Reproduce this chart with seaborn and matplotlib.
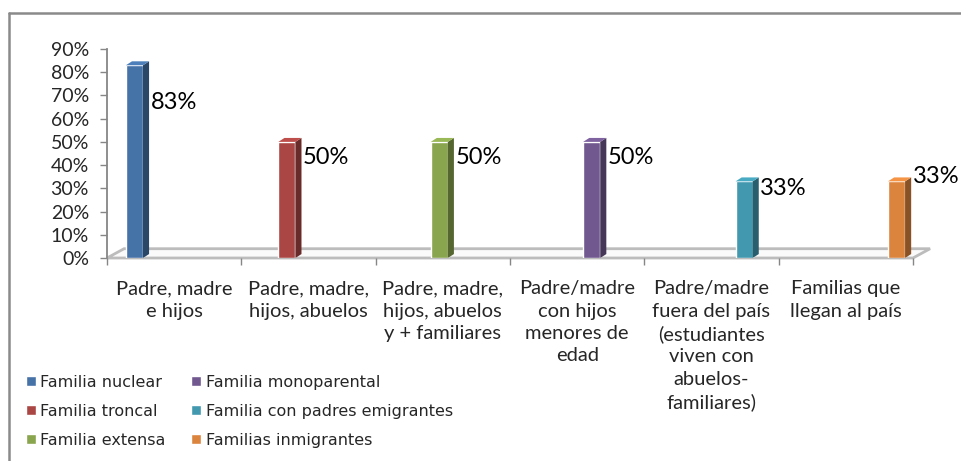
import seaborn as sns
import matplotlib.pyplot as plt
import numpy as np
from matplotlib.patches import Polygon
from matplotlib.lines import Line2D
from matplotlib.ticker import PercentFormatter
from matplotlib.colors import to_rgb

# values
categories = ['Padre, madre\ne hijos',
              'Padre, madre,\nhijos, abuelos',
              'Padre, madre,\nhijos, abuelos\ny + familiares',
              'Padre/madre\ncon hijos\nmenores de\nedad',
              'Padre/madre\nfuera del país\n(estudiantes\nviven con\nabuelos-\nfamiliares)',
              'Familias que\nllegan al país']
family_types = ['Familia nuclear', 'Familia troncal', 'Familia extensa',
                'Familia monoparental', 'Familia con padres emigrantes',
                'Familias inmigrantes']
values = [0.83, 0.50, 0.50, 0.50, 0.33, 0.33]
value_labels = ['83%', '50%', '50%', '50%', '33%', '33%']
label_heights = [0.668, 0.431, 0.431, 0.431, 0.30, 0.353]

colors = ['#4572A7', '#AA4643', '#89A54E', '#71588F', '#4198AF', '#DB843D']

sns.set_style('white')
plt.rcParams['font.family'] = ['Lato', 'DejaVu Sans']

fig = plt.figure(figsize=(9.61, 4.61), dpi=100)
ax = fig.add_axes([107/961, 203/461, 806/961, 209/461])

sns.barplot(x=list(range(len(values))), y=values, hue=family_types,
            palette=colors, dodge=False, width=0.112, saturation=1,
            ax=ax, zorder=3)

ax.set_xlim(-0.180, 5.108)
ax.set_ylim(0, 0.9)

# 3D look: floor plate and bar sides/tops
sx, sy = 0.040, 0.017
fx, fy = 0.112, 0.040
xl, xr = ax.get_xlim()
floor = Polygon([(xl, 0), (xr, 0), (xr + fx, fy), (xl + fx, fy)],
                closed=True, facecolor='#fafafa', edgecolor='#bcbcbc',
                lw=2.0, zorder=1, clip_on=False)
ax.add_patch(floor)

for cont in ax.containers:
    for bar in cont:
        x, w, h = bar.get_x(), bar.get_width(), bar.get_height()
        c = np.array(to_rgb(bar.get_facecolor()))
        side = Polygon([(x + w, 0), (x + w + sx, sy), (x + w + sx, h + sy), (x + w, h)],
                       closed=True, facecolor=c * 0.62, edgecolor='none', zorder=3)
        top = Polygon([(x, h), (x + w, h), (x + w + sx, h + sy), (x + sx, h + sy)],
                      closed=True, facecolor=np.minimum(c * 1.12, 1), edgecolor='none', zorder=3)
        ax.add_patch(side)
        ax.add_patch(top)

bars = [b for cont in ax.containers for b in cont]
bars.sort(key=lambda b: b.get_x())
for b, lab, yh in zip(bars, value_labels, label_heights):
    ax.text(b.get_x() + b.get_width() + sx + 0.01, yh, lab,
            fontsize=17, va='center', ha='left', color='black', zorder=5)

# y axis
ax.yaxis.set_major_formatter(PercentFormatter(1.0, decimals=0))
ax.set_yticks(np.arange(0, 0.91, 0.1))
ax.tick_params(axis='y', left=True, length=5, width=1, color='#868686',
               labelsize=14, pad=8)
ax.set_xticks([])
ax.set_xlabel('')
ax.set_ylabel('')
for s in ['top', 'right', 'bottom']:
    ax.spines[s].set_visible(False)
ax.spines['left'].set_color('#868686')
ax.spines['left'].set_linewidth(1.3)

# category axis
ax2 = ax.twiny()
ax2.set_xlim(-0.5, 5.5)
ax2.xaxis.set_ticks_position('bottom')
ax2.xaxis.set_label_position('bottom')
ax2.set_xticks(range(len(categories)))
ax2.set_xticklabels(categories, fontsize=14.5, linespacing=1.38)
ax2.set_xticks(np.arange(-0.5, 5.6, 1), minor=True)
ax2.tick_params(axis='x', which='major', length=0, pad=16)
ax2.tick_params(axis='x', which='minor', length=5, width=1, color='#868686',
                direction='out')
for s in ax2.spines.values():
    s.set_visible(False)

# legend
sns.move_legend(ax, 'upper left', bbox_to_anchor=(26/961, 1 - 375/461),
                bbox_transform=fig.transFigure, ncol=2, frameon=False,
                title=None, handlelength=0.6, handleheight=0.6,
                handletextpad=0.3, labelspacing=0.87, columnspacing=1.6,
                borderaxespad=0, borderpad=0,
                prop={'family': 'DejaVu Sans', 'size': 11.5})

# outer frame
fig.add_artist(Line2D([9/961, 9/961], [0, 1 - 13/461], color='#8a8a8a', lw=1.8))
fig.add_artist(Line2D([9/961, 1], [1 - 13/461, 1 - 13/461], color='#8a8a8a', lw=1.8))

fig.savefig('out.png', dpi=100)
